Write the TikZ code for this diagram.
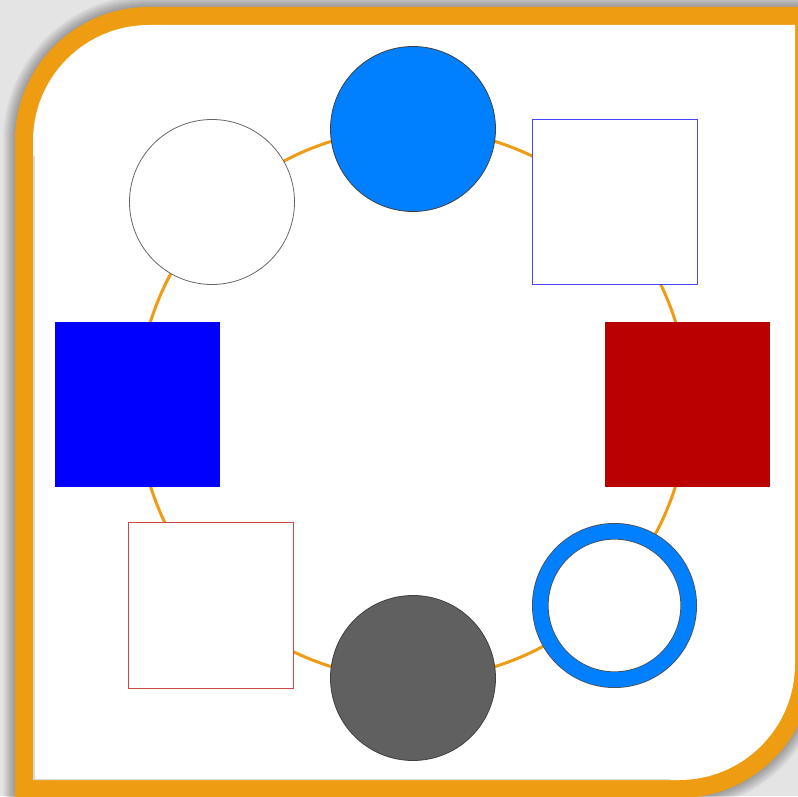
\documentclass[tikz,border=0pt]{standalone}
\usetikzlibrary{calc}
\definecolor{frameorange}{RGB}{238,156,18}
\definecolor{ringorange}{RGB}{240,155,20}
\definecolor{azure}{RGB}{0,128,255}
\definecolor{bgray}{RGB}{228,228,228}
\definecolor{darkred}{RGB}{187,0,0}
\definecolor{sqblue}{RGB}{0,0,255}
\definecolor{midgray}{RGB}{96,96,96}
\definecolor{edgeblue}{RGB}{70,70,255}
\definecolor{edgered}{RGB}{205,70,70}
\tikzset{
  nd/.style={inner sep=0pt, outer sep=0pt, minimum size=165pt},
  rnd/.style={nd, circle, line width=0.8pt},
  sq/.style={nd, rectangle, line width=1pt},
}
\begin{document}
\begin{tikzpicture}[x=1pt,y=1pt]
\useasboundingbox (0,0) rectangle (798,796);
\fill[bgray] (0,0) rectangle (798,796);
% shadow of the frame
\foreach \k in {1,...,12}{
  \fill[black, opacity=0.028]
    (15-\k,-2-\k) -- (15-\k,655) arc[start angle=180,end angle=90,radius=134+\k]
    -- (813+\k,789+\k) -- (813+\k,132) arc[start angle=0,end angle=-90,radius=134+\k] -- cycle;
}
% frame
\fill[frameorange] (15,-2) -- (15,655) arc[start angle=180,end angle=90,radius=134]
  -- (813,789) -- (813,132) arc[start angle=0,end angle=-90,radius=134] -- cycle;
\fill[white] (33,16) -- (33,655) arc[start angle=180,end angle=90,radius=116]
  -- (795,771) -- (795,132) arc[start angle=0,end angle=-90,radius=116] -- cycle;
% faint inner shadow on the left and bottom edges
\fill[black!15] (33,16) rectangle (34.5,640);
\fill[black!15] (33,16) rectangle (670,17.5);
% ring path
\coordinate (c) at (413,392);
\draw[ringorange, line width=3pt] (c) circle[radius=275];
% nodes
\node[rnd, fill=azure, draw=black!75] (n1) at (413,667) {};
\node[rnd, fill=white, draw=black!60] (n2) at (212,594) {};
\node[sq, fill=white, draw=edgeblue] (n3) at (614.5,593.5) {};
\node[sq, fill=darkred] (n4) at (687.5,391.5) {};
\node[sq, fill=sqblue] (n5) at (137.5,391.5) {};
\node[sq, fill=white, draw=edgered] (n6) at (210.5,190.5) {};
\node[rnd, fill=midgray, draw=black!75] (n7) at (413,118) {};
\node[nd, circle, minimum size=148.4pt, fill=white, draw=black!70, line width=0.8pt,
      double=azure, double distance=15pt] (n8) at (614.5,190.5) {};
\end{tikzpicture}
\end{document}
